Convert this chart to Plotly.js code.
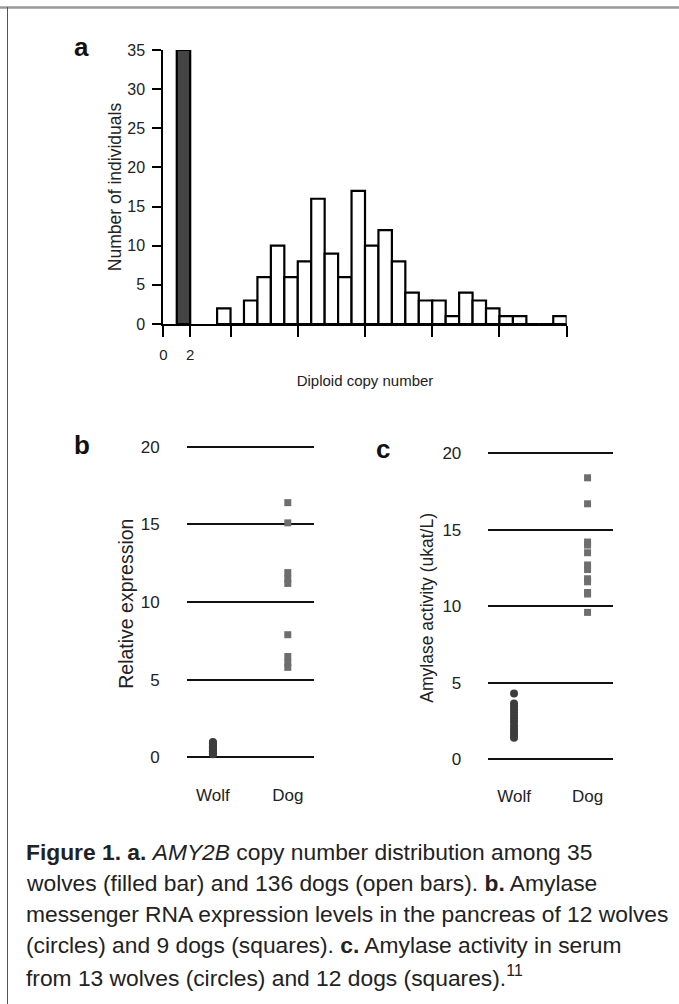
<!DOCTYPE html>
<html>
<head>
<meta charset="utf-8">
<script src="https://cdn.plot.ly/plotly-3.0.1.min.js"></script>
<style>html,body{margin:0;padding:0;background:#fff;}#chart{width:679px;height:1004px;}</style>
</head>
<body>
<div id="chart"></div>
<script>
// Panel a: AMY2B diploid copy number histogram
const wolfCopy = [2];
const wolfCount = [35];
const dogCopy = [5,6,7,8,9,10,11,12,13,14,15,16,17,18,19,20,21,22,23,24,25,26,27,28,29,30];
const dogCount = [2,0,3,6,10,6,8,16,9,6,17,10,12,8,4,3,3,1,4,3,2,1,1,0,0,1];
const copyLabelVals = [0,2];
const copyLabelText = ['0','2'];
const copyMinorVals = [5,10,15,20,25,30];
const countTicks = [0,5,10,15,20,25,30,35];

// Panel b: relative expression
const groups = ['Wolf','Dog'];
const exprWolf = [1.0,0.95,0.9,0.8,0.7,0.65,0.55,0.5,0.4,0.35,0.25,0.2];
const exprDog = [16.4,15.1,11.9,11.5,11.2,7.9,6.5,6.1,5.8];

// Panel c: amylase activity
const actWolf = [4.3,3.65,3.45,3.25,3.05,2.85,2.65,2.45,2.2,2.0,1.8,1.6,1.4];
const actDog = [18.4,16.7,14.2,14.0,13.5,12.7,12.4,11.8,11.6,10.9,10.8,9.6];
const dotTicks = [0,5,10,15,20];

const F = 'Liberation Sans, Arial, Helvetica, sans-serif';
const W = 679, H = 1004;
const px = v => v / W;
const py = v => 1 - v / H;

const traces = [
  {type:'bar', x: wolfCopy.map(c => c - 0.5), y: wolfCount, width: 1, xaxis:'x', yaxis:'y',
   marker:{color:'#444444', line:{color:'#000', width:2.2}}, hoverinfo:'skip'},
  {type:'bar', x: dogCopy.map(c => c - 0.5), y: dogCount, width: 1, xaxis:'x', yaxis:'y',
   marker:{color:'#ffffff', line:{color:'#000', width:2.2}}, hoverinfo:'skip'},
  {type:'scatter', mode:'markers', x: exprWolf.map(() => groups[0]), y: exprWolf, xaxis:'x2', yaxis:'y2',
   marker:{symbol:'circle', size:8, color:'#3d3d3d'}, cliponaxis:false},
  {type:'scatter', mode:'markers', x: exprDog.map(() => groups[1]), y: exprDog, xaxis:'x2', yaxis:'y2',
   marker:{symbol:'square', size:7, color:'#6e6e6e'}, cliponaxis:false},
  {type:'scatter', mode:'markers', x: actWolf.map(() => groups[0]), y: actWolf, xaxis:'x3', yaxis:'y3',
   marker:{symbol:'circle', size:8, color:'#3d3d3d'}, cliponaxis:false},
  {type:'scatter', mode:'markers', x: actDog.map(() => groups[1]), y: actDog, xaxis:'x3', yaxis:'y3',
   marker:{symbol:'square', size:7, color:'#6e6e6e'}, cliponaxis:false}
];

const dotX = {
  type:'category', categoryorder:'array', categoryarray: groups, range:[-0.35,1.35],
  showline:false, showgrid:false, zeroline:false, ticks:'', ticklabelstandoff:16, tickangle:0,
  tickfont:{family:F, size:17, color:'#222'}, fixedrange:true
};
const dotY = {
  range:[-0.6,20.4], tickvals: dotTicks, showline:false, showgrid:true, tickangle:0,
  gridcolor:'#111', gridwidth:2, zeroline:false, ticks:'', ticklabelstandoff:26,
  tickfont:{family:F, size:17, color:'#222'}, fixedrange:true
};

const layout = {
  width: W, height: H,
  margin:{l:0, r:0, t:0, b:0},
  paper_bgcolor:'#fff', plot_bgcolor:'rgba(0,0,0,0)',
  showlegend:false, bargap:0,
  font:{family:F, color:'#222'},
  xaxis:{domain:[px(163.3), px(566.7)], range:[0,30], anchor:'y',
    tickvals: copyLabelVals, ticktext: copyLabelText, ticks:'outside', ticklen:11, tickwidth:2, tickcolor:'#000',
    minor:{tickvals: copyMinorVals, ticks:'outside', ticklen:11, tickwidth:2, tickcolor:'#000', showgrid:false},
    showline:true, linecolor:'#000', linewidth:2, showgrid:false, zeroline:false, ticklabelstandoff:5, tickangle:0,
    tickfont:{family:F, size:15}, title:{text:'Diploid copy number', font:{family:F, size:15}, standoff:13}},
  yaxis:{domain:[py(324), py(50)], range:[0,35], anchor:'x',
    tickvals: countTicks, ticks:'outside', ticklen:9, tickwidth:2, tickcolor:'#000',
    showline:true, linecolor:'#000', linewidth:2, showgrid:false, zeroline:false, ticklabelstandoff:4, tickangle:0,
    tickfont:{family:F, size:16}, title:{text:'Number of individuals', font:{family:F, size:17.5}, standoff:1}},
  xaxis2:Object.assign({}, dotX, {domain:[px(186.7), px(314)], anchor:'y2'}),
  yaxis2:Object.assign({}, dotY, {domain:[py(766.8), py(440.5)], anchor:'x2',
    title:{text:'Relative expression', font:{family:F, size:19.5}, standoff:1}}),
  xaxis3:Object.assign({}, dotX, {domain:[px(488.3), px(613.3)], anchor:'y3'}),
  yaxis3:Object.assign({}, dotY, {domain:[py(768.4), py(447.2)], anchor:'x3',
    title:{text:'Amylase activity (ukat/L)', font:{family:F, size:17.5}, standoff:4}}),
  shapes:[
    {type:'line', xref:'paper', yref:'paper', x0:px(0), x1:px(679), y0:py(7.5), y1:py(7.5), line:{color:'#999', width:2.5}},
    {type:'line', xref:'paper', yref:'paper', x0:px(7.5), x1:px(7.5), y0:py(7), y1:py(1004), line:{color:'#555', width:1}}
  ],
  annotations:[
    {text:'<b>a</b>', xref:'paper', yref:'paper', x:px(81), y:py(47), xanchor:'center', yanchor:'middle', showarrow:false, font:{family:F, size:26, color:'#111'}},
    {text:'<b>b</b>', xref:'paper', yref:'paper', x:px(82), y:py(445), xanchor:'center', yanchor:'middle', showarrow:false, font:{family:F, size:26, color:'#111'}},
    {text:'<b>c</b>', xref:'paper', yref:'paper', x:px(383), y:py(449), xanchor:'center', yanchor:'middle', showarrow:false, font:{family:F, size:26, color:'#111'}},
    {text:'<b>Figure 1. a.</b> <i>AMY2B</i> copy number distribution among 35', xref:'paper', yref:'paper', x:px(24), y:py(852), xanchor:'left', yanchor:'middle', showarrow:false, font:{family:F, size:22.8, color:'#222'}},
    {text:'wolves (filled bar) and 136 dogs (open bars). <b>b.</b> Amylase', xref:'paper', yref:'paper', x:px(24), y:py(883), xanchor:'left', yanchor:'middle', showarrow:false, font:{family:F, size:22.8, color:'#222'}},
    {text:'messenger RNA expression levels in the pancreas of 12 wolves', xref:'paper', yref:'paper', x:px(24), y:py(914), xanchor:'left', yanchor:'middle', showarrow:false, font:{family:F, size:22.8, color:'#222'}},
    {text:'(circles) and 9 dogs (squares). <b>c.</b> Amylase activity in serum', xref:'paper', yref:'paper', x:px(24), y:py(945), xanchor:'left', yanchor:'middle', showarrow:false, font:{family:F, size:22.8, color:'#222'}},
    {text:'from 13 wolves (circles) and 12 dogs (squares).<sup>11</sup>', xref:'paper', yref:'paper', x:px(24), y:py(976), xanchor:'left', yanchor:'middle', showarrow:false, font:{family:F, size:22.8, color:'#222'}}
  ]
};

Plotly.newPlot('chart', traces, layout, {staticPlot:true, displayModeBar:false});
</script>
</body>
</html>
